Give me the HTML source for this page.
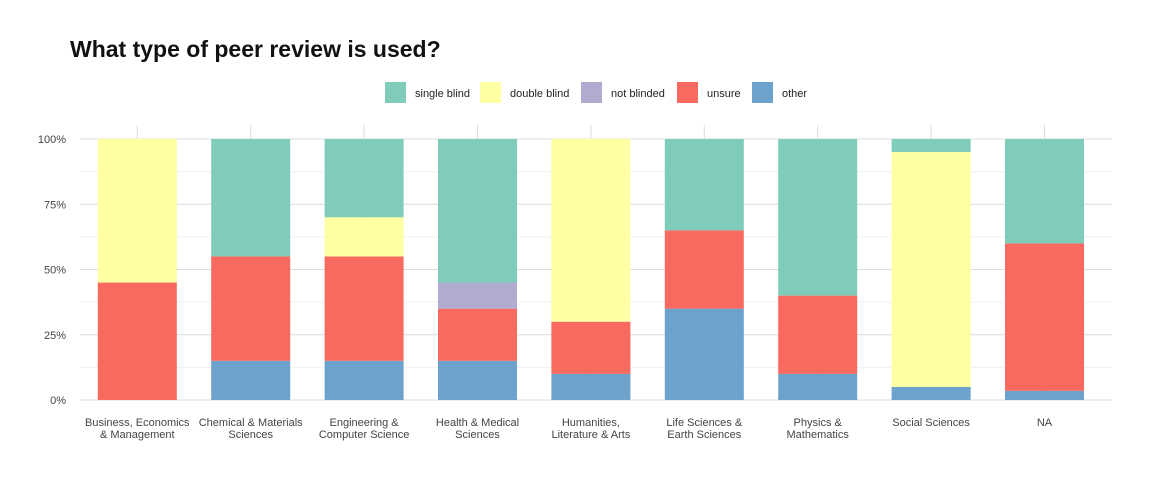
<!DOCTYPE html>
<html><head><meta charset="utf-8"><style>
body{margin:0;background:#fff;font-family:"Liberation Sans",sans-serif;}
svg text{font-family:"Liberation Sans",sans-serif;}
</style></head><body>
<svg id="chart" width="1152" height="480">
<text x="70" y="57" font-size="23" font-weight="bold" fill="#111">What type of peer review is used?</text>
<g id="legend"></g>
<g id="grid"></g>
<g id="bars"></g>
<g id="axes"></g>
</svg>
<script>
const categories=[["Business, Economics","& Management"],["Chemical & Materials","Sciences"],["Engineering &","Computer Science"],["Health & Medical","Sciences"],["Humanities,","Literature & Arts"],["Life Sciences &","Earth Sciences"],["Physics &","Mathematics"],["Social Sciences"],["NA"]];
const seriesNames=["other","unsure","not blinded","double blind","single blind"];
const other=[0,15,15,15,10,35,10,5,3.5];
const unsure=[45,40,40,20,20,30,30,0,56.5];
const notBlinded=[0,0,0,10,0,0,0,0,0];
const doubleBlind=[55,0,15,0,70,0,0,90,0];
const singleBlind=[0,45,30,55,0,35,60,5,40];
const yTicks=[0,25,50,75,100];
const yTickLabels=["0%","25%","50%","75%","100%"];
const legendOrder=["single blind","double blind","not blinded","unsure","other"];
const colors={"single blind":"#7fccba","double blind":"#ffffa3","not blinded":"#b1aad1","unsure":"#f8695f","other":"#6ca2cb"};
const ns="http://www.w3.org/2000/svg";
function mk(t,a,p){const e=document.createElementNS(ns,t);for(const k in a)e.setAttribute(k,a[k]);p.appendChild(e);return e;}
const gx0=80,gx1=1112,yTop=139,yBot=400;
const step=113.4,firstC=137.3;
const xC=i=>firstC+step*i;
const yS=v=>yBot-(yBot-yTop)*v/100;
const barW=79;
const grid=document.getElementById('grid');
for(let v=12.5;v<100;v+=25){const l=mk('line',{x1:gx0,x2:gx1,y1:yS(v),y2:yS(v),stroke:'#f0f0f0','stroke-width':1},grid);}
yTicks.forEach(v=>{const l=mk('line',{x1:gx0,x2:gx1,y1:yS(v),y2:yS(v),stroke:'#dcdcdc','stroke-width':1},grid);});
categories.forEach((c,i)=>{const l=mk('line',{x1:xC(i),x2:xC(i),y1:125,y2:yBot,stroke:'#dcdcdc','stroke-width':1},grid);});
const bars=document.getElementById('bars');
const series=[other,unsure,notBlinded,doubleBlind,singleBlind];
categories.forEach((c,i)=>{let cum=0;series.forEach((s,j)=>{const v=s[i];if(v>0){const r=mk('rect',{x:xC(i)-barW/2,y:yS(cum+v),width:barW,height:yS(cum)-yS(cum+v),fill:colors[seriesNames[j]]},bars);

}cum+=v;});});
const axes=document.getElementById('axes');
yTicks.forEach((v,i)=>{const t=mk('text',{x:66,y:yS(v)+4,'text-anchor':'end','font-size':11,fill:'#444'},axes);t.textContent=yTickLabels[i];});
categories.forEach((c,i)=>{c.forEach((ln,k)=>{const t=mk('text',{x:xC(i),y:426+k*12,'text-anchor':'middle','font-size':11,fill:'#444'},axes);t.textContent=ln;});});
const lg=document.getElementById('legend');
const lx=[385,480,581,677,752];
legendOrder.forEach((n,i)=>{const r=mk('rect',{x:lx[i],y:82,width:21,height:21,fill:colors[n]},lg);
const t=mk('text',{x:lx[i]+30,y:97,'font-size':11,fill:'#222'},lg);t.textContent=n;});
</script>
</body></html>
